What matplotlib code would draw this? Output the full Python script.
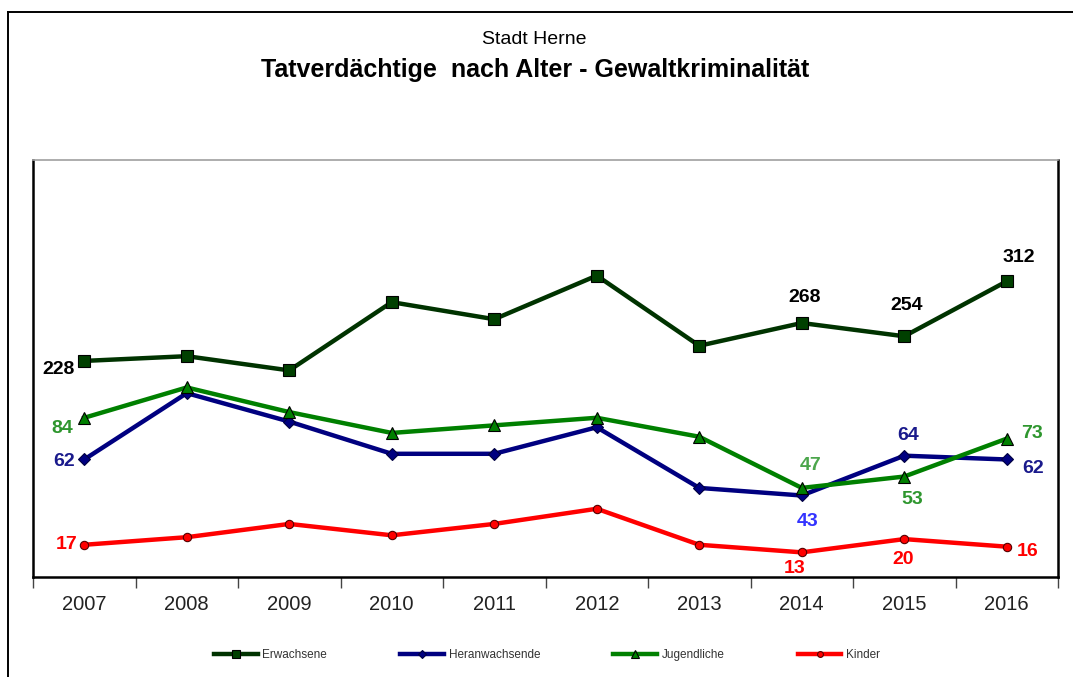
import matplotlib
matplotlib.use("Agg")
import matplotlib.pyplot as plt
from matplotlib.lines import Line2D

# ---------------- data ----------------
years = ["2007", "2008", "2009", "2010", "2011", "2012", "2013", "2014", "2015", "2016"]
erwachsene = [228, 233, 218, 290, 272, 318, 244, 268, 254, 312]
heranwachsende = [62, 97, 82, 65, 65, 79, 47, 43, 64, 62]
jugendliche = [84, 100, 87, 76, 80, 84, 74, 47, 53, 73]
kinder = [17, 21, 28, 22, 28, 36, 17, 13, 20, 16]
series_names = ["Erwachsene", "Heranwachsende", "Jugendliche", "Kinder"]
subtitle = "Stadt Herne"
title = "Tatverdächtige  nach Alter - Gewaltkriminalität"

NARROW = ["Liberation Sans Narrow", "Liberation Sans", "DejaVu Sans"]
plt.rcParams["font.family"] = ["Liberation Sans", "DejaVu Sans"]

W, H = 1073, 677
fig = plt.figure(figsize=(W / 100, H / 100), dpi=100)
fig.patch.set_facecolor("white")

# outer frame (top + left)
fig.add_artist(Line2D([8 / W, 1.0], [1 - 12 / H, 1 - 12 / H], color="black", lw=1.4))
fig.add_artist(Line2D([8 / W, 8 / W], [0, 1 - 12 / H], color="black", lw=1.4))

left, right, top, bottom = 33, 1058, 160, 577
ax = fig.add_axes([left / W, 1 - bottom / H, (right - left) / W, (bottom - top) / H])
ax.set_xlim(0, 10)
ax.set_ylim(0, 440)
ax2 = ax.twinx()
ax2.set_ylim(0, 220)

x = [i + 0.5 for i in range(len(years))]

c_erw = "#003300"
c_her = "#000080"
c_jug = "#008000"
c_kin = "#ff0000"

l1, = ax.plot(x, erwachsene, color=c_erw, lw=3.2, marker="s", markersize=8,
              markerfacecolor="#004000", markeredgecolor="black", markeredgewidth=0.8,
              label=series_names[0], zorder=3)
l4, = ax2.plot(x, kinder, color=c_kin, lw=3.2, marker="o", markersize=6,
               markerfacecolor=c_kin, markeredgecolor="#550000", markeredgewidth=0.8,
               label=series_names[3], zorder=3)
l2, = ax2.plot(x, heranwachsende, color=c_her, lw=3.2, marker="D", markersize=6.5,
               markerfacecolor=c_her, markeredgecolor="#000040", markeredgewidth=0.8,
               label=series_names[1], zorder=4)
l3, = ax2.plot(x, jugendliche, color=c_jug, lw=3.2, marker="^", markersize=9,
               markerfacecolor=c_jug, markeredgecolor="black", markeredgewidth=0.8,
               label=series_names[2], zorder=5)

# spines
for s in ["left", "right", "bottom"]:
    ax.spines[s].set_color("black")
    ax.spines[s].set_linewidth(1.8)
ax.spines["top"].set_color("#a0a0a0")
ax.spines["top"].set_linewidth(1.2)
for s in ax2.spines.values():
    s.set_visible(False)

ax.set_yticks([])
ax2.set_yticks([])
ax.set_xticks(x)
ax.set_xticklabels(years, fontsize=14.5, family=NARROW, color="#222222")
ax.tick_params(axis="x", which="major", length=0, pad=13)
ax.set_xticks(range(0, 11), minor=True)
ax.tick_params(axis="x", which="minor", length=8, width=1.0, color="#444444", direction="out")

# data labels
lab_font = dict(fontsize=14, fontweight="bold", family=NARROW, ha="center", va="center")
labels = [
    (ax, erwachsene, 0, -26, -9, "black"),
    (ax, erwachsene, 7, 3, 26, "black"),
    (ax, erwachsene, 8, 2, 31, "black"),
    (ax, erwachsene, 9, 12, 24, "black"),
    (ax2, jugendliche, 0, -22, -11, "#2e962e"),
    (ax2, jugendliche, 7, 9, 22, "#4ca64c"),
    (ax2, jugendliche, 8, 8, -23, "#2e962e"),
    (ax2, jugendliche, 9, 25, 5, "#2e962e"),
    (ax2, heranwachsende, 0, -20, -2, "#1a1a8c"),
    (ax2, heranwachsende, 7, 6, -26, "#3333ff"),
    (ax2, heranwachsende, 8, 4, 20, "#1a1a8c"),
    (ax2, heranwachsende, 9, 26, -9, "#1a1a8c"),
    (ax2, kinder, 0, -18, 0, "#ff0000"),
    (ax2, kinder, 7, -7, -16, "#ff0000"),
    (ax2, kinder, 8, -1, -20, "#ff0000"),
    (ax2, kinder, 9, 21, -5, "#ff0000"),
]
for a, ser, i, dx, dy, col in labels:
    a.annotate(str(ser[i]), (x[i], ser[i]), xytext=(dx, dy), textcoords="offset pixels",
               color=col, zorder=10, annotation_clip=False, **lab_font)

# titles
fig.text(534 / W, 1 - 40 / H, subtitle, ha="center", va="center", fontsize=14, family=NARROW)
fig.text(535 / W, 1 - 70 / H, title, ha="center", va="center", fontsize=18,
         fontweight="bold", family=NARROW)

# legend
leg = fig.legend(handles=[l1, l2, l3, l4], labels=series_names, loc="center",
                 bbox_to_anchor=(547 / W, 1 - 655 / H), ncol=4, frameon=False,
                 fontsize=8.5, handlelength=3.7, handletextpad=0.4, columnspacing=6.2,
                 markerscale=0.7)
for t in leg.get_texts():
    t.set_color("#333333")

fig.savefig("out.png", dpi=100, facecolor="white")
